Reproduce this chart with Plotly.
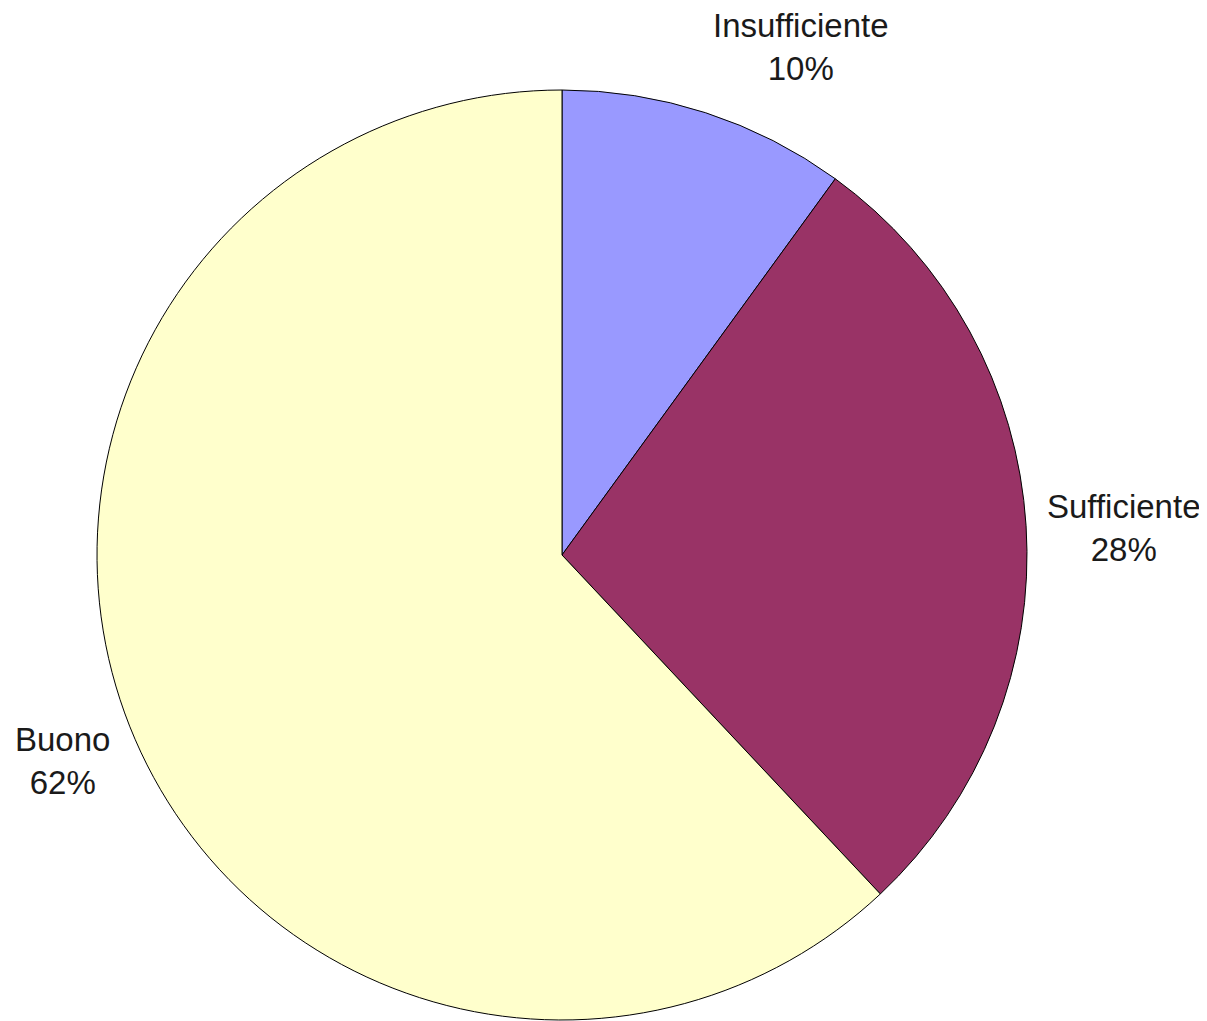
import math
import plotly.graph_objects as go

labels = ["Insufficiente", "Sufficiente", "Buono"]
values = [10, 28, 62]
colors = ["#9999FF", "#993366", "#FFFFCC"]

W, H = 1207, 1021
OFF = 8  # page body margin
cx, cy, R = 562 - OFF, 555 - OFF, 465

fig = go.Figure()
fig.add_trace(go.Pie(
    labels=labels,
    values=values,
    sort=False,
    direction="clockwise",
    rotation=0,
    marker=dict(colors=colors, line=dict(color="black", width=1)),
    textinfo="none",
    hoverinfo="label+percent",
    showlegend=False,
    domain=dict(x=[(cx - R) / W, (cx + R) / W], y=[1 - (cy + R) / H, 1 - (cy - R) / H]),
))

total = sum(values)
cum = 0
annotations = []
for lab, v in zip(labels, values):
    mid = (cum + v / 2) / total * 2 * math.pi
    cum += v
    s, c = math.sin(mid), math.cos(mid)
    px = cx + 485 * s
    py = cy - 485 * c
    ty = py + 6.5 - 56 * c
    pct = round(v / total * 100)
    annotations.append(dict(
        x=px / W, y=1 - ty / H, xref="paper", yref="paper",
        text=f"{lab}<br>{pct}%", showarrow=False,
        xanchor="left" if s >= 0 else "right", yanchor="middle",
        align="center", borderpad=0,
        font=dict(family="Arial, Liberation Sans, sans-serif", size=33, color="#1a1a1a"),
    ))

fig.update_layout(
    width=W, height=H,
    margin=dict(l=0, r=0, t=0, b=0),
    paper_bgcolor="white", plot_bgcolor="white",
    annotations=annotations,
)

fig.write_html("out.html")
